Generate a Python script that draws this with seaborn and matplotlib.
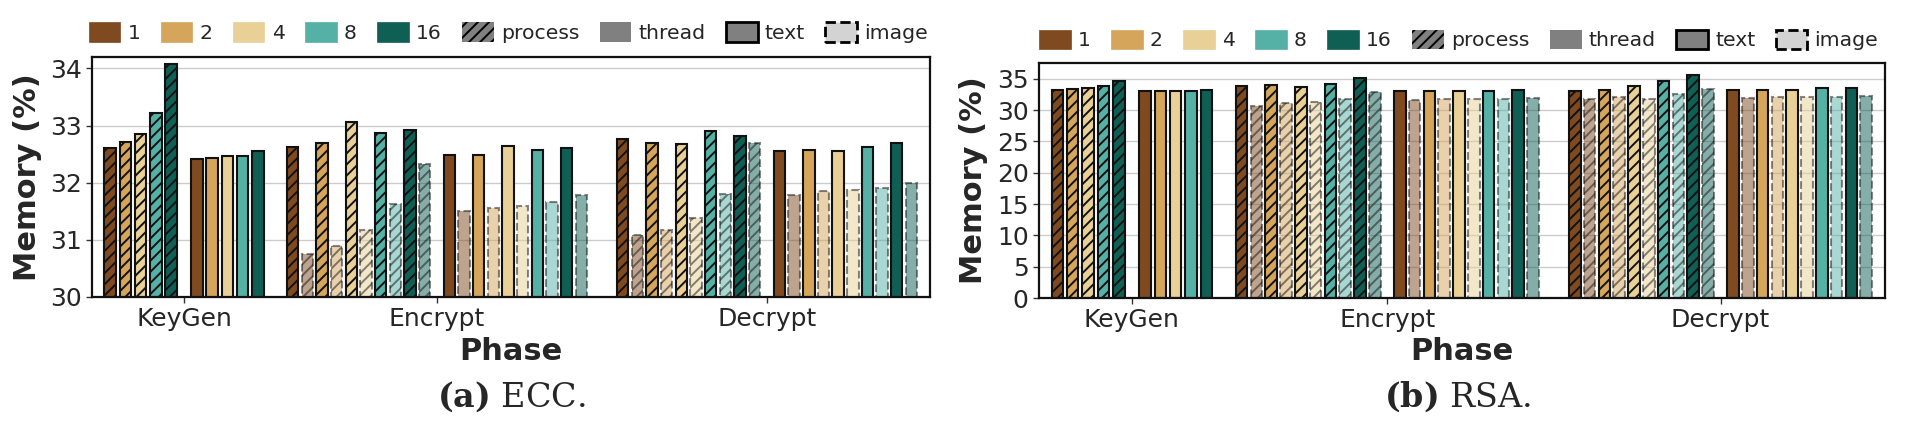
import matplotlib
matplotlib.use('Agg')
import matplotlib.pyplot as plt
from matplotlib.patches import Patch
import seaborn as sns
import pandas as pd
import numpy as np

phases = ['KeyGen', 'Encrypt', 'Decrypt']
threads = ['1', '2', '4', '8', '16']
thread_colors = ['#7f4a1f', '#d4a55a', '#e9d096', '#55b1a6', '#0f5f55']

# ECC memory (%)
ecc_keygen_process = [32.61, 32.72, 32.86, 33.22, 34.08]
ecc_keygen_thread = [32.41, 32.44, 32.46, 32.47, 32.55]
ecc_encrypt_process_text = [32.63, 32.70, 33.06, 32.87, 32.93]
ecc_encrypt_process_image = [30.75, 30.89, 31.18, 31.62, 32.33]
ecc_encrypt_thread_text = [32.48, 32.48, 32.64, 32.58, 32.61]
ecc_encrypt_thread_image = [31.50, 31.55, 31.60, 31.66, 31.78]
ecc_decrypt_process_text = [32.77, 32.70, 32.68, 32.91, 32.81]
ecc_decrypt_process_image = [31.08, 31.18, 31.39, 31.80, 32.69]
ecc_decrypt_thread_text = [32.56, 32.58, 32.56, 32.62, 32.70]
ecc_decrypt_thread_image = [31.78, 31.85, 31.88, 31.91, 32.00]

# RSA memory (%)
rsa_keygen_process = [33.13, 33.35, 33.51, 33.77, 34.57]
rsa_keygen_thread = [32.97, 32.97, 32.97, 32.97, 33.13]
rsa_encrypt_process_text = [33.77, 33.93, 33.67, 34.09, 35.11]
rsa_encrypt_process_image = [30.58, 31.12, 31.28, 31.81, 32.88]
rsa_encrypt_thread_text = [33.08, 33.08, 33.08, 33.08, 33.24]
rsa_encrypt_thread_image = [31.65, 31.81, 31.81, 31.81, 31.92]
rsa_decrypt_process_text = [33.08, 33.24, 33.77, 34.57, 35.64]
rsa_decrypt_process_image = [31.81, 32.02, 31.81, 32.56, 33.40]
rsa_decrypt_thread_text = [33.24, 33.24, 33.24, 33.51, 33.51]
rsa_decrypt_thread_image = [31.92, 32.02, 32.02, 32.02, 32.18]

ecc = {
    ('KeyGen', 'process', 'text'): ecc_keygen_process,
    ('KeyGen', 'thread', 'text'): ecc_keygen_thread,
    ('Encrypt', 'process', 'text'): ecc_encrypt_process_text,
    ('Encrypt', 'process', 'image'): ecc_encrypt_process_image,
    ('Encrypt', 'thread', 'text'): ecc_encrypt_thread_text,
    ('Encrypt', 'thread', 'image'): ecc_encrypt_thread_image,
    ('Decrypt', 'process', 'text'): ecc_decrypt_process_text,
    ('Decrypt', 'process', 'image'): ecc_decrypt_process_image,
    ('Decrypt', 'thread', 'text'): ecc_decrypt_thread_text,
    ('Decrypt', 'thread', 'image'): ecc_decrypt_thread_image,
}
rsa = {
    ('KeyGen', 'process', 'text'): rsa_keygen_process,
    ('KeyGen', 'thread', 'text'): rsa_keygen_thread,
    ('Encrypt', 'process', 'text'): rsa_encrypt_process_text,
    ('Encrypt', 'process', 'image'): rsa_encrypt_process_image,
    ('Encrypt', 'thread', 'text'): rsa_encrypt_thread_text,
    ('Encrypt', 'thread', 'image'): rsa_encrypt_thread_image,
    ('Decrypt', 'process', 'text'): rsa_decrypt_process_text,
    ('Decrypt', 'process', 'image'): rsa_decrypt_process_image,
    ('Decrypt', 'thread', 'text'): rsa_decrypt_thread_text,
    ('Decrypt', 'thread', 'image'): rsa_decrypt_thread_image,
}

# layout of the groups (in bar slots)
phase_centers = [6.28, 23.55, 46.08]
phase_slot = [1.04, 1.0, 1.0]
sub_gap = 0.7
x_max = 57.2


def build_frame(series):
    rows = []
    for p, phase in enumerate(phases):
        media = ['text'] if phase == 'KeyGen' else ['text', 'image']
        n = len(media)
        slot = phase_slot[p]
        total = (2 * 5 * n + sub_gap) * slot
        start = phase_centers[p] - total / 2
        for m, mode in enumerate(['process', 'thread']):
            for t in range(5):
                for k, med in enumerate(media):
                    idx = m * (5 * n + sub_gap) + t * n + k
                    rows.append(dict(phase=phase, mode=mode, media=med,
                                     threads=threads[t],
                                     value=series[(phase, mode, med)][t],
                                     pos=start + (idx + 0.5) * slot))
    return pd.DataFrame(rows).sort_values('pos').reset_index(drop=True)


sns.set_style('whitegrid')
plt.rcParams['font.family'] = ['DejaVu Sans']
plt.rcParams['mathtext.fontset'] = 'dejavuserif'
plt.rcParams['hatch.linewidth'] = 1.4

color_map = dict(zip(threads, thread_colors))


def draw(ax, series, ylim, yticks, leg_xy, ylab_x, xlab_y):
    df = build_frame(series)
    sns.barplot(data=df, x='pos', y='value', native_scale=True, width=0.78,
                errorbar=None, saturation=1, ax=ax)
    bars = sorted(ax.patches, key=lambda b: b.get_x())
    for bar, (_, row) in zip(bars, df.iterrows()):
        bar.set_facecolor(color_map[row.threads])
        bar.set_edgecolor('#111111')
        bar.set_linewidth(1.5)
        if row['mode'] == 'process':
            bar.set_hatch('///')
        if row.media == 'image':
            bar.set_alpha(0.5)
            bar.set_linestyle('--')
        bar.set_zorder(2)

    ax.set_xlim(0, x_max)
    ax.set_ylim(*ylim)
    ax.set_yticks(yticks)
    ax.set_xticks(phase_centers)
    ax.set_xticklabels(phases)
    ax.grid(axis='x', visible=False)
    ax.grid(axis='y', color='#cccccc', linewidth=1.0)
    ax.set_axisbelow(True)
    for s in ax.spines.values():
        s.set_color('#111111')
        s.set_linewidth(1.6)
    ax.tick_params(axis='both', which='major', labelsize=18, length=4,
                   width=1, color='#333333', bottom=True, left=True)
    ax.set_xlabel('Phase', fontsize=22, fontweight='bold')
    ax.set_ylabel('Memory (%)', fontsize=22, fontweight='bold')
    ax.yaxis.set_label_coords(ylab_x, 0.5)
    ax.xaxis.set_label_coords(0.5, xlab_y)

    handles = [Patch(facecolor=c, edgecolor=c, linewidth=0.5) for c in thread_colors]
    handles += [
        Patch(facecolor='#808080', edgecolor='black', hatch='///', linewidth=0),
        Patch(facecolor='#808080', edgecolor='#808080', linewidth=0),
        Patch(facecolor='#808080', edgecolor='black', linewidth=2),
        Patch(facecolor='#d3d3d3', edgecolor='black', linestyle='--', linewidth=2),
    ]
    labels = threads + ['process', 'thread', 'text', 'image']
    ax.legend(handles, labels, loc='center left', bbox_to_anchor=leg_xy,
              ncol=9, frameon=False, fontsize=14.7, borderpad=0,
              borderaxespad=0, handlelength=1.55, handleheight=1.1,
              handletextpad=0.35, columnspacing=1.0)


fig = plt.figure(figsize=(19.05, 4.25), dpi=100)
ax1 = fig.add_axes([92 / 1905, 128 / 425, 838 / 1905, 240 / 425])
ax2 = fig.add_axes([1039 / 1905, 127 / 425, 846 / 1905, 235 / 425])

draw(ax1, ecc, (30, 34.2), [30, 31, 32, 33, 34], (-0.004, 1.101), -0.060, -0.166)
draw(ax2, rsa, (0, 37.5), [0, 5, 10, 15, 20, 25, 30, 35], (0.0, 1.098), -0.060, -0.165)

fig.text(511 / 1905, 1 - 397 / 425, r'$\mathbf{(a)}$ ECC.', fontsize=24,
         family='DejaVu Serif', ha='center', va='center')
fig.text(1458 / 1905, 1 - 397 / 425, r'$\mathbf{(b)}$ RSA.', fontsize=24,
         family='DejaVu Serif', ha='center', va='center')

fig.savefig('out.png', dpi=100)
